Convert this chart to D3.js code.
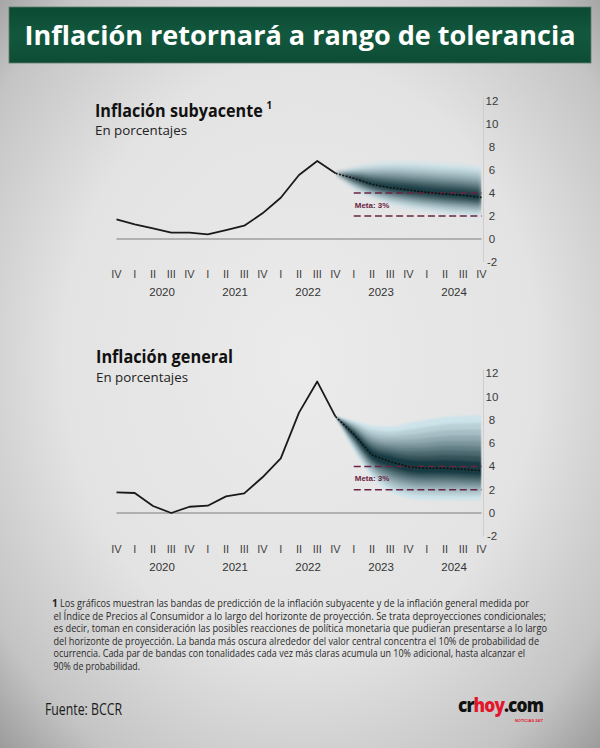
<!DOCTYPE html>
<html><head><meta charset="utf-8">
<script src="https://cdn.jsdelivr.net/npm/d3@7"></script>
<style>html,body{margin:0;padding:0;background:#e3e3e3}svg{display:block}</style>
</head><body><svg id="c" width="600" height="748"></svg>
<script>
// ---------- data ----------
const quarterLabels = ["IV","I","II","III","IV","I","II","III","IV","I","II","III","IV","I","II","III","IV","I","II","III","IV"];
const yearLabels = ["2020","2021","2022","2023","2024"];
const yTicks = [-2,0,2,4,6,8,10,12];

// Inflación subyacente (history 2019 IV – 2022 IV)
const coreHistory = [1.71,1.28,0.93,0.55,0.55,0.41,0.78,1.16,2.23,3.59,5.57,6.78,5.71];
// projection 2022 IV – 2024 IV
const coreCentral = [5.71,5.28,4.75,4.46,4.26,4.06,3.91,3.80,3.62];
const coreUpper90 = [5.71,6.2,6.5,6.65,6.65,6.6,6.5,6.4,6.25];
const coreLower90 = [5.71,4.4,3.6,3.05,2.7,2.45,2.25,2.1,2.0];

// Inflación general
const headHistory = [1.78,1.72,0.60,0.0,0.54,0.63,1.43,1.69,3.07,4.70,8.62,11.29,8.28];
const headCentral = [8.28,6.76,4.99,4.41,3.98,3.84,3.84,3.75,3.65];
const headUpper90 = [8.28,7.95,7.5,7.4,7.7,8.0,8.25,8.35,8.4];
const headLower90 = [8.28,5.4,3.1,1.8,1.3,1.15,1.1,1.1,1.1];

// fan bands: probability level and share of the 90% half-width
const bandLevels = [90,80,70,60,50,40,30,20,10];
const bandShares = [1,0.86,0.74,0.63,0.53,0.44,0.35,0.26,0.16];

const targetUpper = 4, targetLower = 2;
const targetLabel = "Meta: 3%";

const footnoteLines = [
 "Los gráficos muestran las bandas de predicción de la inflación subyacente y de la inflación general medida por",
 "el Índice de Precios al Consumidor a lo largo del horizonte de proyección. Se trata deproyecciones condicionales;",
 "es decir, toman en consideración las posibles reacciones de política monetaria que pudieran presentarse a lo largo",
 "del horizonte de proyección. La banda más oscura alrededor del valor central concentra el 10% de probabilidad de",
 "ocurrencia. Cada par de bandas con tonalidades cada vez más claras acumula un 10% adicional, hasta alcanzar el",
 "90% de probabilidad."
];
const footnoteEnds = [529,546,547,539,525,140];

// ---------- drawing ----------
const svg = d3.select("#c");
const defs = svg.append("defs");

const bg = defs.append("radialGradient").attr("id","bg").attr("cx","50%").attr("cy","48%").attr("r","72%");
bg.append("stop").attr("offset","0").attr("stop-color","#ebebeb");
bg.append("stop").attr("offset","0.55").attr("stop-color","#e3e3e3");
bg.append("stop").attr("offset","0.85").attr("stop-color","#c4c4c4");
bg.append("stop").attr("offset","1").attr("stop-color","#9c9c9c");
svg.append("rect").attr("width",600).attr("height",748).attr("fill","url(#bg)");

const gg = defs.append("linearGradient").attr("id","ban").attr("x1","0").attr("x2","0").attr("y1","0").attr("y2","1");
gg.append("stop").attr("offset","0").attr("stop-color","#0b4a33");
gg.append("stop").attr("offset","0.5").attr("stop-color","#12583e");
gg.append("stop").attr("offset","1").attr("stop-color","#0d4c35");
svg.append("rect").attr("x",9).attr("y",7).attr("width",582).attr("height",56).attr("fill","url(#ban)")
  .attr("stroke","#5f7a6c").attr("stroke-width",0.8);
svg.append("text").attr("x",300).attr("y",45).attr("text-anchor","middle").attr("font-family","Open Sans").attr("font-weight",700)
  .attr("font-size",27.5).attr("fill","#ffffff").attr("textLength",551).attr("lengthAdjust","spacingAndGlyphs")
  .text("Inflación retornará a rango de tolerancia");

const blurTop = defs.append("filter").attr("id","blurA").attr("x","-10%").attr("y","-20%").attr("width","120%").attr("height","140%");
blurTop.append("feGaussianBlur").attr("stdDeviation",2.0);
const blurBot = defs.append("filter").attr("id","blurB").attr("x","-10%").attr("y","-20%").attr("width","120%").attr("height","140%");
blurBot.append("feGaussianBlur").attr("stdDeviation",0.9);

const bandColor = d3.scaleLinear().domain([0,bandLevels.length-1])
  .range(["#cde3ea","#163a42"]).interpolate(d3.interpolateRgb.gamma(1.25));

function drawChart(cfg){
  const g = svg.append("g");
  const x = d3.scaleLinear().domain([0,quarterLabels.length-1]).range([116.5,481.5]);
  const y = d3.scaleLinear().domain([-2,12]).range([cfg.yBottom,cfg.yTop]);
  const n0 = cfg.history.length-1;

  // titles
  const tt = g.append("text").attr("x",cfg.titleX).attr("y",cfg.titleY).attr("font-family","Open Sans")
    .attr("font-weight",700).attr("font-size",17.5).attr("fill","#111")
    .attr("textLength",cfg.titleW).attr("lengthAdjust","spacingAndGlyphs");
  tt.append("tspan").text(cfg.title);
  if(cfg.sup){
    tt.append("tspan").attr("dx",4).attr("dy",-8).attr("font-size",10.5).text(cfg.sup);
  }
  g.append("text").attr("x",cfg.titleX).attr("y",cfg.subY).attr("font-family","Open Sans")
    .attr("font-size",13.5).attr("fill","#222").attr("textLength",92).attr("lengthAdjust","spacingAndGlyphs")
    .text("En porcentajes");

  // right axis line
  g.append("line").attr("x1",x(20)+2).attr("x2",x(20)+2).attr("y1",y(12.3)).attr("y2",y(-2))
    .attr("stroke","#c8c8c8").attr("stroke-width",0.8);

  // y tick labels
  g.selectAll(".yt").data(yTicks).join("text").attr("x",492).attr("y",d=>y(d)+4)
    .attr("text-anchor","middle").attr("font-family","Liberation Sans").attr("font-size",11.5)
    .attr("fill","#3a3a3a").text(d=>d);

  // fan
  const idx = d3.range(n0, quarterLabels.length);
  const clipId = "clip"+cfg.id;
  defs.append("clipPath").attr("id",clipId).append("rect")
    .attr("x",x(n0)).attr("y",0).attr("width",x(20)-x(n0)).attr("height",748);
  const fanG = g.append("g").attr("clip-path",`url(#${clipId})`).append("g").attr("filter",`url(#${cfg.blur})`);
  bandShares.forEach((s,k)=>{
    const area = d3.area().x((d,i)=>x(idx[i]))
      .y0((d,i)=>y(cfg.central[i]-(cfg.central[i]-cfg.lower[i])*s))
      .y1((d,i)=>y(cfg.central[i]+(cfg.upper[i]-cfg.central[i])*s))
      .curve(d3.curveMonotoneX);
    fanG.append("path").datum(cfg.central).attr("d",area).attr("fill",bandColor(k));
  });

  // zero line
  g.append("line").attr("x1",x(0)).attr("x2",x(20)).attr("y1",y(0)).attr("y2",y(0))
    .attr("stroke","#7d7d7d").attr("stroke-width",1);

  // target range
  [targetUpper,targetLower].forEach(v=>{
    g.append("line").attr("x1",x(13)).attr("x2",x(20)).attr("y1",y(v)).attr("y2",y(v))
      .attr("stroke","#6a2443").attr("stroke-width",1.6).attr("stroke-dasharray","7,3.6");
  });
  g.append("text").attr("x",x(13)+1).attr("y",y(2.72)).attr("font-family","Liberation Sans")
    .attr("font-weight",700).attr("font-size",8).attr("fill","#6a2443").text(targetLabel);

  // history
  g.append("path").datum(cfg.history)
    .attr("d",d3.line().x((d,i)=>x(i)).y(d=>y(d)))
    .attr("fill","none").attr("stroke","#1a1a1a").attr("stroke-width",1.8).attr("stroke-linejoin","round");
  // central projection
  g.append("path").datum(cfg.central)
    .attr("d",d3.line().x((d,i)=>x(idx[i])).y(d=>y(d)))
    .attr("fill","none").attr("stroke","#111").attr("stroke-width",1.6).attr("stroke-dasharray","2,1.5");

  // x labels
  g.selectAll(".q").data(quarterLabels).join("text").attr("x",(d,i)=>x(i)).attr("y",cfg.qY)
    .attr("text-anchor","middle").attr("font-family","Liberation Sans").attr("font-size",11)
    .attr("fill","#3f3f3f").text(d=>d);
  const yearPos = yearLabels.map((yl,j)=>{
    let count=-1; let pos=0;
    quarterLabels.forEach((q,i)=>{ if(q==="I") count++; if(count===j && q==="II") pos=i+0.5; });
    return pos;
  });
  g.selectAll(".yr").data(yearLabels).join("text").attr("x",(d,j)=>x(yearPos[j])).attr("y",cfg.yrY)
    .attr("text-anchor","middle").attr("font-family","Liberation Sans").attr("font-size",11.5)
    .attr("fill","#333").text(d=>d);
}

drawChart({id:"a",title:"Inflación subyacente",sup:"1",titleX:95,titleY:116.5,titleW:177,subY:135,
  yTop:101,yBottom:262,history:coreHistory,central:coreCentral,upper:coreUpper90,lower:coreLower90,
  blur:"blurA",qY:277.5,yrY:295.5});
drawChart({id:"b",title:"Inflación general",sup:null,titleX:96,titleY:363,titleW:137,subY:381.5,
  yTop:373.3,yBottom:536.3,history:headHistory,central:headCentral,upper:headUpper90,lower:headLower90,
  blur:"blurB",qY:552.5,yrY:570.5});

// footnote
svg.append("text").attr("x",52).attr("y",607).attr("font-family","Open Sans").attr("font-weight",700)
  .attr("font-size",10).attr("fill","#222").text("1");
footnoteLines.forEach((line,i)=>{
  const x0 = i===0 ? 60 : 53.5;
  svg.append("text").attr("x",x0).attr("y",607+i*12.55).attr("font-family","Open Sans")
    .attr("font-size",10).attr("fill","#2a2a2a")
    .attr("textLength",footnoteEnds[i]-x0).attr("lengthAdjust","spacingAndGlyphs").text(line);
});

svg.append("text").attr("x",45).attr("y",715).attr("font-family","Open Sans").attr("font-size",15.5)
  .attr("fill","#1a1a1a").attr("textLength",77).attr("lengthAdjust","spacingAndGlyphs").text("Fuente: BCCR");

// logo
const logo = svg.append("text").attr("x",458).attr("y",712).attr("font-family","Open Sans").attr("font-weight",800)
  .attr("font-size",19).attr("letter-spacing",-1).attr("textLength",85).attr("lengthAdjust","spacingAndGlyphs");
logo.append("tspan").attr("fill","#111").text("cr");
logo.append("tspan").attr("fill","#e3162b").text("hoy");
logo.append("tspan").attr("fill","#111").text(".com");
svg.append("text").attr("x",543).attr("y",721.5).attr("text-anchor","end").attr("font-family","Liberation Sans")
  .attr("font-weight",700).attr("font-size",4).attr("fill","#e3162b").text("NOTICIAS 24/7");
</script></body></html>
